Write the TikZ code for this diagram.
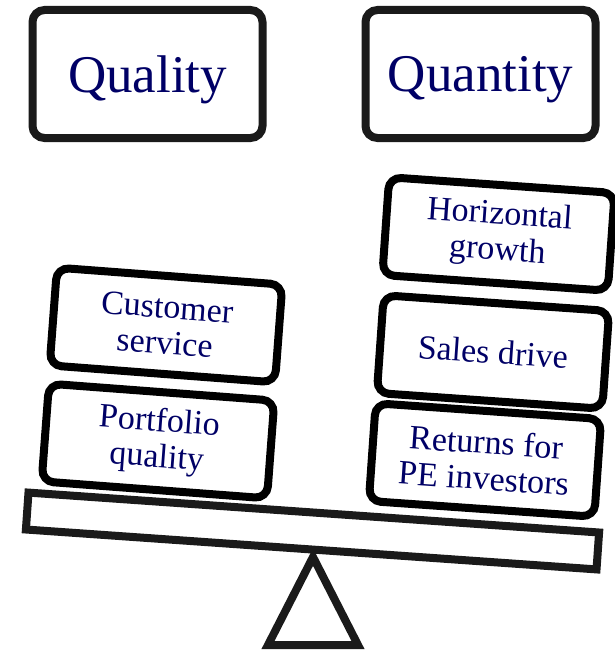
\documentclass[tikz,border=0pt]{standalone}
\usepackage{fontspec}
\setmainfont{Liberation Serif}
\usepackage{tikz}

\definecolor{inkblue}{RGB}{0,0,102}
\definecolor{edgegray}{RGB}{26,26,26}

\tikzset{
    title/.style={draw=edgegray, line width=8pt, rounded corners=12pt, fill=white,
        minimum width=230pt, minimum height=128pt, text=inkblue, text depth=0pt,
        font=\fontsize{53}{56}\selectfont},
    weight/.style={draw=black, line width=8pt, rounded corners=12pt, fill=white,
        minimum width=226pt, minimum height=98pt, text=inkblue, align=center,
        font=\fontsize{34}{36}\selectfont},
}

\begin{document}
\begin{tikzpicture}[x=1pt, y=-1pt]
    \useasboundingbox (0, 0) rectangle (615, 650);

    % headings
    \node[title] (quality) at (147.5, 74) {Quality};
    \node[title] (quantity) at (480.5, 74) {Quantity};

    % pivot
    \coordinate (P1) at (313, 557);
    \coordinate (P2) at (358, 645);
    \coordinate (P3) at (268, 645);
    \draw[edgegray, line width=8pt] (P1) -- (P2) -- (P3) -- cycle;

    % beam
    \node[draw=edgegray, line width=8pt, fill=white, minimum width=572pt,
        minimum height=37pt, rotate=-4] (beam) at (312.5, 531) {};

    % left pan
    \node[weight, rotate=-4.3] (portfolio) at (158, 441) {Portfolio\\quality};
    \node[weight, rotate=-4.3] (service) at (166, 325) {Customer\\service};

    % right pan
    \node[weight, rotate=-4] (returns) at (485, 460) {Returns for\\PE investors};
    \node[weight, rotate=-4] (sales) at (493, 352) {Sales drive};
    \node[weight, rotate=-4] (horizontal) at (498.5, 234) {Horizontal\\growth};
\end{tikzpicture}
\end{document}
